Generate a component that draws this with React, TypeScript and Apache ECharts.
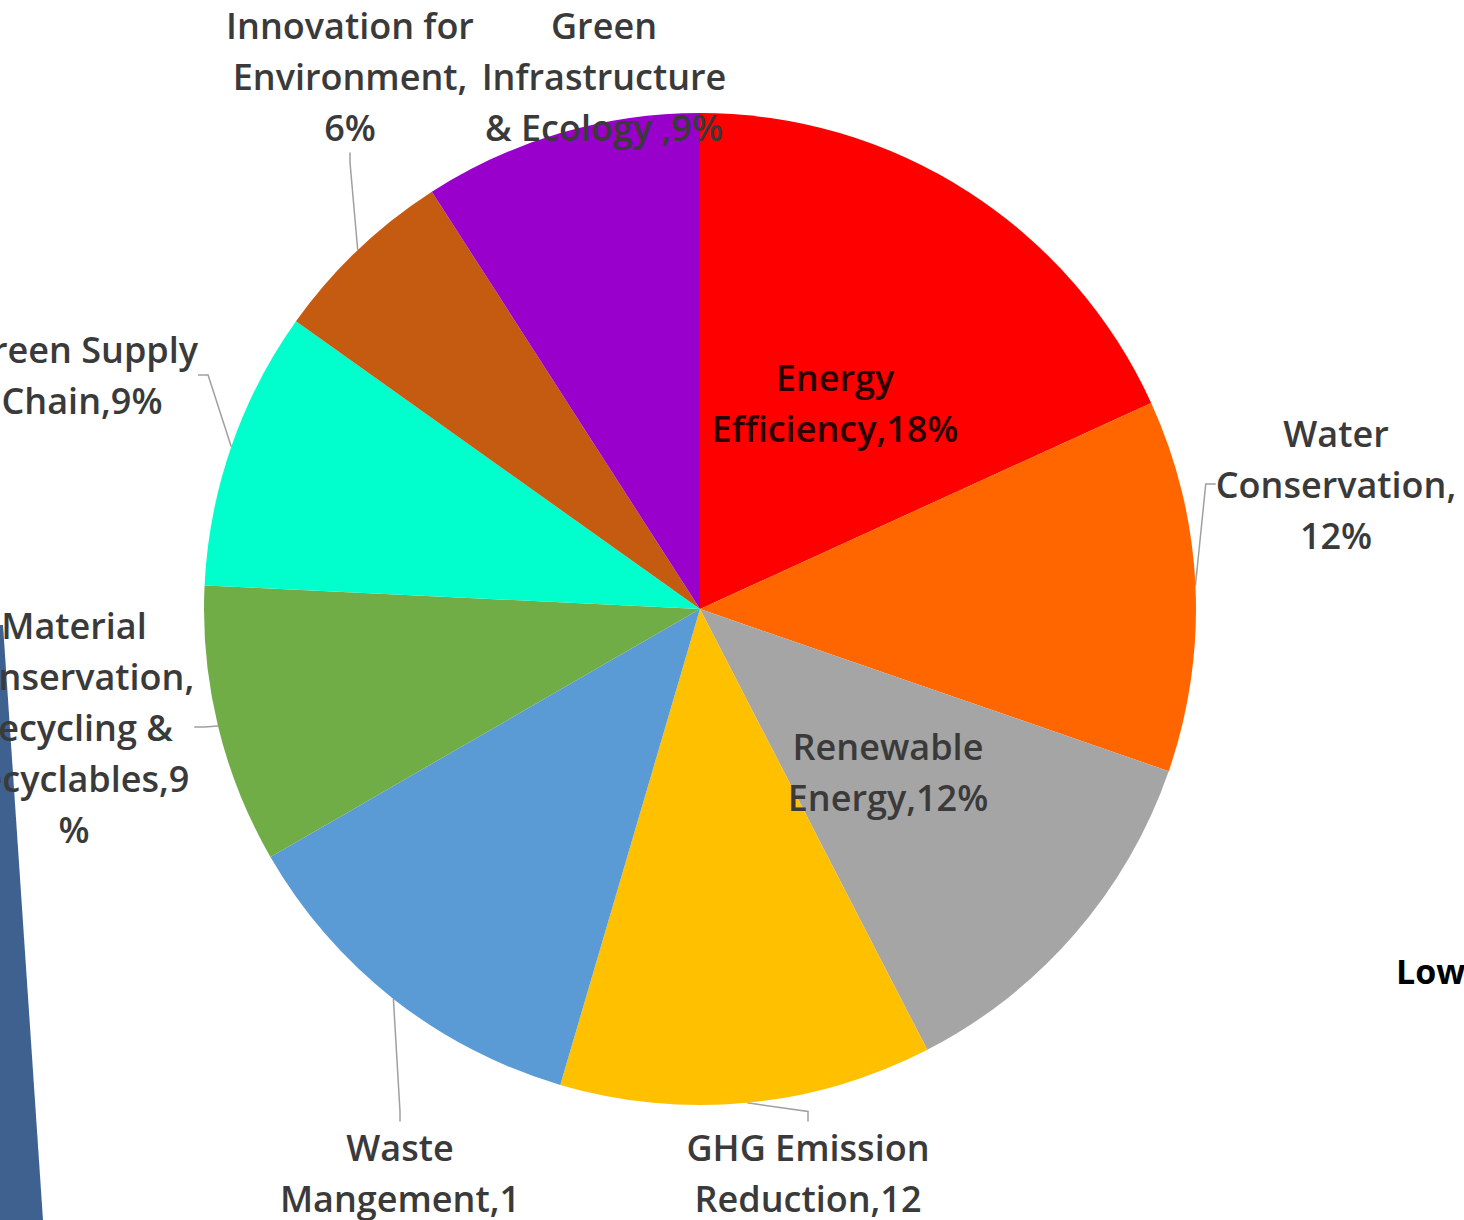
import React, { useEffect, useRef } from "react";
import * as echarts from "echarts";

const categories = [
  "Energy Efficiency",
  "Water Conservation",
  "Renewable Energy",
  "GHG Emission Reduction",
  "Waste Mangement",
  "Material Conservation, Recycling & Recyclables",
  "Green Supply Chain",
  "Innovation for Environment",
  "Green Infrastructure & Ecology",
];
const shares = [18, 12, 12, 12, 12, 9, 9, 6, 9];
const labelTexts = [
  "Energy\nEfficiency,18%",
  "Water\nConservation,\n12%",
  "Renewable\nEnergy,12%",
  "GHG Emission\nReduction,12\n%",
  "Waste\nMangement,1\n2%",
  "Material\nConservation,\nRecycling &\nRecyclables,9\n%",
  "Green Supply\nChain,9%",
  "Innovation for\nEnvironment,\n6%",
  "Green\nInfrastructure\n& Ecology ,9%",
];
const sliceColors = [
  "#FF0000",
  "#FF6600",
  "#A5A5A5",
  "#FFC000",
  "#5B9BD5",
  "#70AD47",
  "#00FFCC",
  "#C55A11",
  "#9900CC",
];
const insideLabel = [true, false, true, false, false, false, false, false, false];
const noLine = [true, false, true, false, false, false, false, false, true];
const labelPos: [number, number][] = [
  [835, 403],
  [1336, 484],
  [888, 772],
  [808, 1198],
  [400, 1198],
  [74, 727],
  [82, 375],
  [350, 76],
  [604, 76],
];

export default function App() {
  const ref = useRef<HTMLDivElement>(null);
  useEffect(() => {
    if (!ref.current) return;
    const chart = echarts.init(ref.current, null, { renderer: "svg" });
    const font = "'Open Sans', 'Noto Sans', sans-serif";
    chart.setOption({
      animation: false,
      backgroundColor: "#ffffff",
      graphic: [
        {
          type: "polygon",
          shape: { points: [[0, 625], [3, 625], [43, 1220], [0, 1220]] },
          style: { fill: "#3F6190" },
        },
        {
          type: "text",
          x: 1396,
          y: 971,
          style: {
            text: "Low",
            font: `bold 34px 'Open Sans', sans-serif`,
            fill: "#000000",
            verticalAlign: "middle",
          },
        },
      ],
      series: [
        {
          type: "pie",
          center: [700, 609],
          radius: 496,
          startAngle: 90,
          clockwise: true,
          avoidLabelOverlap: false,
          itemStyle: { borderWidth: 0 },
          label: {
            show: true,
            position: "outside",
            fontFamily: font,
            fontSize: 36,
            fontWeight: 600,
            lineHeight: 51,
            color: "#3A3A3A",
            align: "center",
          },
          labelLine: {
            show: true,
            length: 20,
            length2: 10,
            lineStyle: { color: "#A0A0A0", width: 1.5 },
          },
          labelLayout: (params: any) => {
            const p = labelPos[params.dataIndex];
            return {
              x: p[0],
              y: p[1],
              align: "center",
              verticalAlign: "middle",
              hideOverlap: false,
            };
          },
          data: categories.map((name, i) => ({
            name,
            value: shares[i],
            itemStyle: { color: sliceColors[i] },
            label: {
              formatter: labelTexts[i],
              position: insideLabel[i] ? "inside" : "outside",
              color: i === 0 ? "#2A0000" : "#3A3A3A",
            },
            labelLine: { show: !noLine[i] },
          })),
        },
      ],
    });
    return () => chart.dispose();
  }, []);
  return (
    <div
      ref={ref}
      style={{ position: "fixed", left: 0, top: 0, width: 1464, height: 1220 }}
    />
  );
}
